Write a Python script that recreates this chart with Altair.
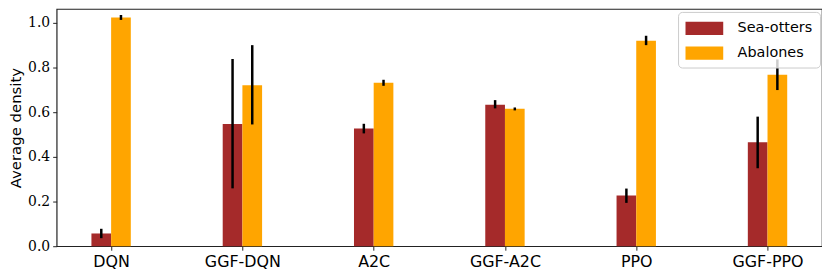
import altair as alt
import pandas as pd

methods = ["DQN", "GGF-DQN", "A2C", "GGF-A2C", "PPO", "GGF-PPO"]
series = ["Sea-otters", "Abalones"]
otters_mean = [0.057, 0.547, 0.527, 0.633, 0.227, 0.465]
otters_lo = [0.036, 0.259, 0.505, 0.617, 0.194, 0.349]
otters_hi = [0.078, 0.838, 0.548, 0.654, 0.258, 0.580]
abal_mean = [1.024, 0.721, 0.732, 0.615, 0.920, 0.768]
abal_lo = [1.013, 0.545, 0.718, 0.608, 0.900, 0.699]
abal_hi = [1.035, 0.900, 0.745, 0.621, 0.942, 0.836]
tick_values = [0.0, 0.2, 0.4, 0.6, 0.8, 1.0]
colors = ["#a52a2a", "#ffa500"]
bar_w = 0.15

rows = []
for i, m in enumerate(methods):
    rows.append(dict(method=m, series=series[0], x0=i - bar_w, x1=i, xc=i - bar_w / 2,
                     mean=otters_mean[i], lo=otters_lo[i], hi=otters_hi[i], base=0.0))
    rows.append(dict(method=m, series=series[1], x0=i, x1=i + bar_w, xc=i + bar_w / 2,
                     mean=abal_mean[i], lo=abal_lo[i], hi=abal_hi[i], base=0.0))
df = pd.DataFrame(rows)

label_expr = "[" + ",".join("'%s'" % m for m in methods) + "][datum.value]"

xscale = alt.Scale(domain=[-0.415, 5.415], nice=False, zero=False)
yscale = alt.Scale(domain=[0, 1.062], nice=False)

base = alt.Chart(df)

bars = base.mark_rect(opacity=1).encode(
    x=alt.X("x0:Q", scale=xscale, title=None,
            axis=alt.Axis(values=list(range(len(methods))), labelExpr=label_expr,
                          grid=False, tickSize=4, labelPadding=3,
                          labelFont="DejaVu Sans", labelFontSize=16,
                          labelColor="black", tickColor="#222", domain=False)),
    x2="x1:Q",
    y=alt.Y("mean:Q", scale=yscale, title="Average density",
            axis=alt.Axis(values=tick_values, format=".1f", grid=False, tickSize=4,
                          labelPadding=3, labelFont="DejaVu Serif", labelFontSize=14,
                          labelColor="black", tickColor="#222", domain=False,
                          titleFont="DejaVu Sans", titleFontSize=15,
                          titleFontWeight="normal", titleColor="black", titlePadding=4)),
    y2="base:Q",
    color=alt.Color("series:N", scale=alt.Scale(domain=series, range=colors),
                    legend=alt.Legend(title=None, orient="none", legendX=626, legendY=3,
                                      padding=7, fillColor="rgba(255,255,255,0.8)",
                                      strokeColor="#cccccc", cornerRadius=4,
                                      symbolType="M-2,-0.7L2,-0.7L2,0.7L-2,0.7Z",
                                      symbolSize=361, symbolStrokeWidth=0,
                                      symbolOpacity=1, symbolOffset=10,
                                      labelFont="DejaVu Sans", labelFontSize=14.5,
                                      labelColor="black", labelOffset=24,
                                      rowPadding=8)),
)

errs = base.mark_rule(color="black", strokeWidth=2.5).encode(
    x="xc:Q", y="lo:Q", y2="hi:Q"
)

chart = (bars + errs).properties(
    width=820, height=262,
    padding=0,
    autosize=alt.AutoSizeParams(type="fit", contains="padding"),
).configure_view(stroke="#222", strokeWidth=1.2)

chart.save("out.html", embed_options={"renderer": "svg", "actions": False})
